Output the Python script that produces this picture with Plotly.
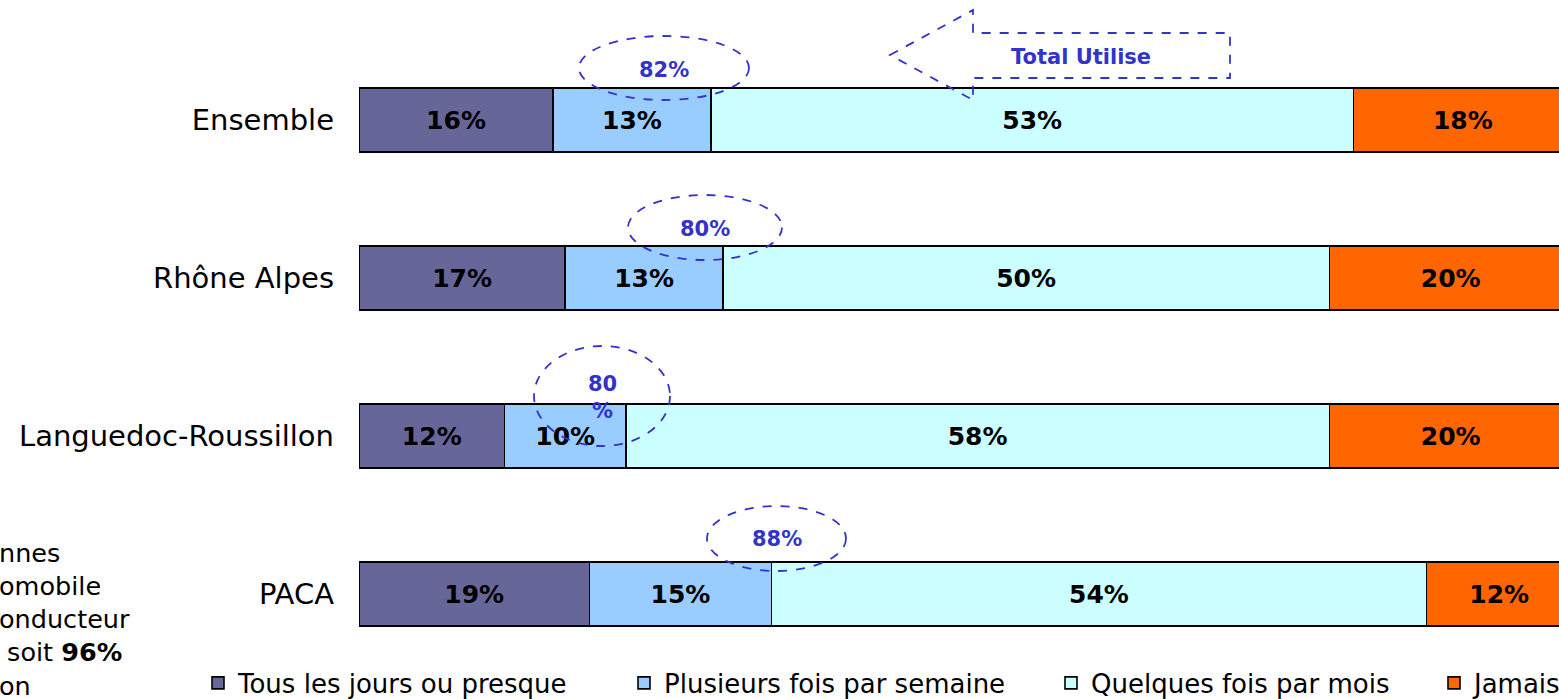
import plotly.graph_objects as go

categories = ["Ensemble", "Rhône Alpes", "Languedoc-Roussillon", "PACA"]
series_names = ["Tous les jours ou presque", "Plusieurs fois par semaine",
                "Quelques fois par mois", "Jamais"]
tous_les_jours = [16, 17, 12, 19]
plusieurs_fois = [13, 13, 10, 15]
quelques_fois = [53, 50, 58, 54]
jamais = [18, 20, 20, 12]
total_utilise = ["82%", "80%", "80<br>%", "88%"]

colors = ["#666699", "#99CCFF", "#CCFFFF", "#FF6600"]
values = [tous_les_jours, plusieurs_fois, quelques_fois, jamais]

W, H = 1559, 699
ML, MR, MT, MB = 359, 0, 0, 26
PLOT_W = W - ML - MR
PLOT_H = H - MT - MB
PX_PER_PCT = 12.13
XMAX = PLOT_W / PX_PER_PCT


def py(pix):
    return 1 - pix / PLOT_H


def px(pix):
    return (pix - ML) / PX_PER_PCT


def pxp(pix):
    return (pix - ML) / PLOT_W


legend_names = ["legend", "legend2", "legend3", "legend4"]
legend_left = [198, 624, 1051, 1434]

fig = go.Figure()
for name, vals, col, lg in zip(series_names, values, colors, legend_names):
    fig.add_trace(go.Bar(
        y=categories, x=vals, name=name, orientation="h",
        marker=dict(color=col, line=dict(color="black", width=1.6)),
        width=0.405, legend=lg,
        text=[f"{v}%" for v in vals], textposition="inside",
        insidetextanchor="middle", textangle=0,
        textfont=dict(family="DejaVu Sans", size=25, color="black", weight="bold"),
    ))

blue = "#3333CC"
ellipses = [(579, 36, 749, 100), (628, 195, 782, 260), (534, 346, 670, 446), (707, 506, 846, 571)]
label_pos = [(664, 70), (705, 229), (602, 397), (777, 539)]
shapes = []
annotations = []
for (x0, y0, x1, y1), (lx, ly), t in zip(ellipses, label_pos, total_utilise):
    shapes.append(dict(type="circle", xref="x", yref="paper",
                       x0=px(x0), x1=px(x1), y0=py(y1), y1=py(y0),
                       line=dict(color=blue, width=1.8, dash="dash"), layer="above"))
    annotations.append(dict(text=f"<b>{t}</b>", xref="x", yref="paper",
                            x=px(lx), y=py(ly), showarrow=False,
                            xanchor="center", yanchor="middle",
                            font=dict(family="DejaVu Sans", size=21, color=blue)))

tip = (890, 55)
hx, htop, stop, sbot, hbot, rx = 973, 10, 33, 78, 100, 1230
pts = [tip, (hx, htop), (hx, stop), (rx, stop), (rx, sbot), (hx, sbot), (hx, hbot)]
path = "M " + " L ".join(f"{px(a):.3f},{py(b):.4f}" for a, b in pts) + " Z"
shapes.append(dict(type="path", xref="x", yref="paper", path=path,
                   line=dict(color=blue, width=1.8, dash="dash"), layer="above"))
annotations.append(dict(text="<b>Total Utilise</b>", xref="x", yref="paper",
                        x=px(1081), y=py(57), showarrow=False,
                        xanchor="center", yanchor="middle",
                        font=dict(family="DejaVu Sans", size=21, color=blue)))

annotations.append(dict(
    text="nnes<br>omobile<br>onducteur<br>\u00a0soit <b>96%</b><br>on",
    xref="paper", yref="paper", x=pxp(-3), y=py(619),
    xanchor="left", yanchor="middle", align="left", showarrow=False,
    font=dict(family="DejaVu Sans", size=25.5, color="black")))

legend_layout = {}
for lg, left in zip(legend_names, legend_left):
    legend_layout[lg] = dict(
        orientation="h", x=pxp(left), xanchor="left", y=py(683), yanchor="middle",
        font=dict(family="DejaVu Sans", size=26, color="black"),
        bgcolor="rgba(0,0,0,0)", borderwidth=0)

fig.update_layout(
    width=W, height=H,
    margin=dict(l=ML, r=MR, t=MT, b=MB, autoexpand=False),
    barmode="stack",
    plot_bgcolor="white", paper_bgcolor="white",
    font=dict(family="DejaVu Sans", color="black"),
    xaxis=dict(range=[0, XMAX], showgrid=False, showticklabels=False,
               zeroline=False, showline=False),
    yaxis=dict(categoryorder="array", categoryarray=categories,
               range=[3.5, -0.7595], showgrid=False, zeroline=False,
               showline=False, ticks="", ticklabelstandoff=24,
               tickfont=dict(family="DejaVu Sans", size=29, color="black")),
    shapes=shapes, annotations=annotations,
    showlegend=True,
    **legend_layout,
)

fig.write_html("out.html", config={"displayModeBar": False},
               post_script="document.body.style.margin='0';")
